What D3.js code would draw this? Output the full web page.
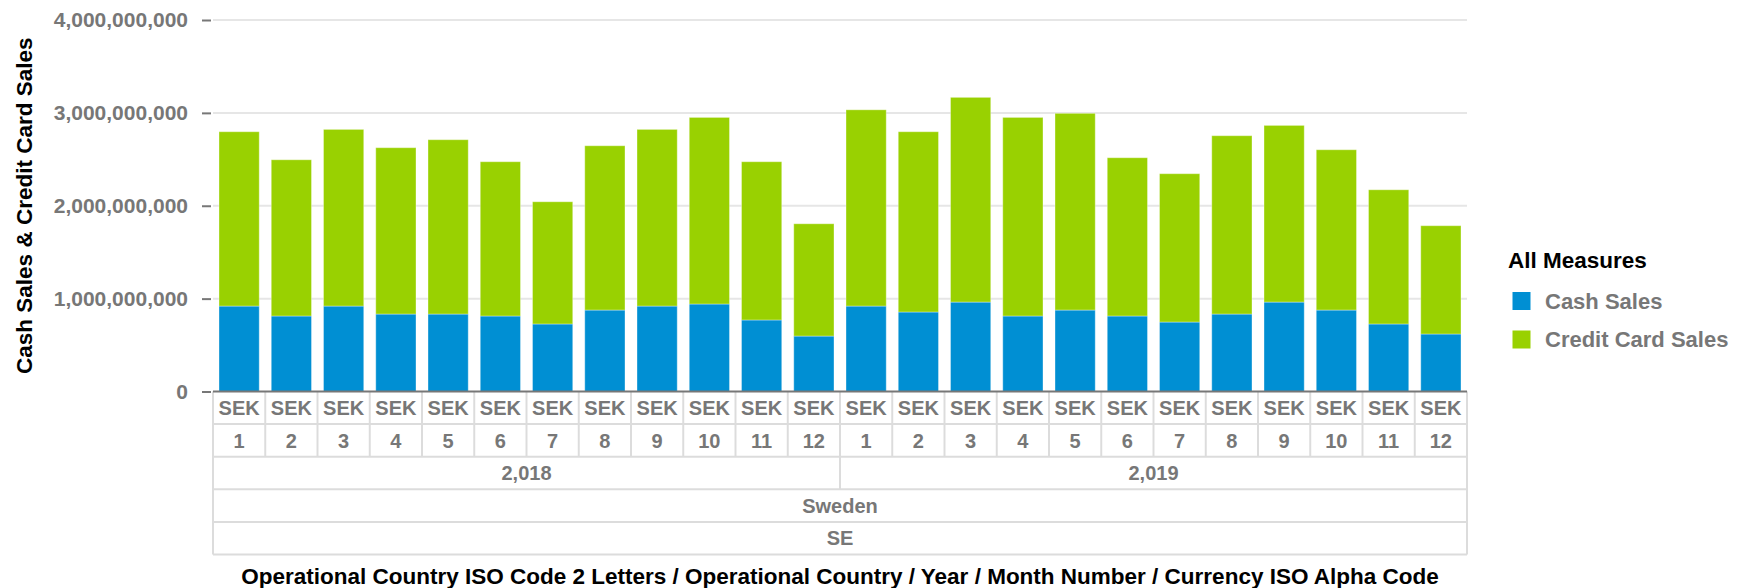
<!DOCTYPE html>
<html>
<head>
  <meta charset="utf-8">
  <title>Cash Sales & Credit Card Sales</title>
  <script src="https://cdn.jsdelivr.net/npm/d3@7/dist/d3.min.js"></script>
  <style>
    body { margin: 0; background: #fff; }
    svg text { font-family: "Liberation Sans", Arial, sans-serif; font-weight: bold; }
  </style>
</head>
<body>
  <svg id="chart" width="1745" height="588"></svg>
  <script>
    // data
    const months = [1, 2, 3, 4, 5, 6, 7, 8, 9, 10, 11, 12, 1, 2, 3, 4, 5, 6, 7, 8, 9, 10, 11, 12];
    const years = ['2,018', '2,019'];
    const currency = 'SEK';
    const country = 'Sweden';
    const isoCode = 'SE';
    const cashSales = [920, 813, 920, 834, 834, 813, 727, 877, 920, 942, 770, 597,
                       920, 856, 963, 813, 877, 813, 748, 834, 963, 877, 727, 619].map(v => v * 1e6);
    const totalSales = [2797, 2495, 2822, 2625, 2711, 2474, 2043, 2646, 2822, 2951, 2474, 1806,
                        3033, 2797, 3167, 2951, 2995, 2517, 2345, 2754, 2865, 2603, 2172, 1785].map(v => v * 1e6);
    const creditSales = totalSales.map((t, i) => t - cashSales[i]);
    const yTicks = [0, 1e9, 2e9, 3e9, 4e9];
    const measures = ['Cash Sales', 'Credit Card Sales'];
    const colors = ['#008fd3', '#99d101'];

    const svg = d3.select('#chart');
    const plotLeft = 213, plotRight = 1467, plotTop = 20, plotBase = 391.5;
    const rowH = 32.6;

    const keys = months.map((m, i) => i);
    const x = d3.scaleBand().domain(keys).range([plotLeft, plotRight]);
    const y = d3.scaleLinear().domain([0, 4e9]).range([plotBase, plotTop]);

    // gridlines
    svg.append('g').selectAll('line').data(yTicks.slice(1)).join('line')
      .attr('x1', plotLeft).attr('x2', plotRight)
      .attr('y1', d => y(d)).attr('y2', d => y(d))
      .attr('stroke', '#e6e6e6').attr('stroke-width', 2);

    // y axis
    const yAxis = svg.append('g')
      .attr('transform', `translate(${plotLeft - 2},0)`)
      .call(d3.axisLeft(y).tickValues(yTicks).tickSize(9).tickPadding(14).tickFormat(d3.format(',')));
    yAxis.select('.domain').remove();
    yAxis.selectAll('.tick line').attr('stroke', '#777').attr('stroke-width', 2);
    yAxis.selectAll('.tick text').attr('fill', '#777').style('font-size', '21px');

    // stacked bars
    const rows = keys.map(i => ({ i, cash: cashSales[i], credit: creditSales[i] }));
    const stack = d3.stack().keys(['cash', 'credit'])(rows);
    const bw = x.bandwidth() * 0.77;
    const off = (x.bandwidth() - bw) / 2;
    svg.append('g').selectAll('g').data(stack).join('g')
      .attr('fill', (d, k) => colors[k])
      .selectAll('rect').data(d => d).join('rect')
      .attr('x', d => x(d.data.i) + off)
      .attr('width', bw)
      .attr('y', d => y(d[1]))
      .attr('height', d => y(d[0]) - y(d[1]))
      .attr('stroke', 'rgba(255,255,255,0.35)').attr('stroke-width', 1);

    // category table below the plot
    const table = svg.append('g');
    const lineCol = '#dcdcdc';
    const rowTop = k => plotBase + k * rowH;
    // horizontal row lines
    table.selectAll('line.h').data(d3.range(1, 6)).join('line')
      .attr('x1', plotLeft).attr('x2', plotRight)
      .attr('y1', k => rowTop(k)).attr('y2', k => rowTop(k))
      .attr('stroke', lineCol).attr('stroke-width', 2);
    // outer verticals
    table.selectAll('line.o').data([plotLeft, plotRight]).join('line')
      .attr('x1', d => d).attr('x2', d => d)
      .attr('y1', plotBase).attr('y2', rowTop(5))
      .attr('stroke', lineCol).attr('stroke-width', 2);
    // per-month verticals
    table.selectAll('line.m').data(keys.slice(1)).join('line')
      .attr('x1', d => x(d)).attr('x2', d => x(d))
      .attr('y1', plotBase).attr('y2', d => d === 12 ? rowTop(3) : rowTop(2))
      .attr('stroke', lineCol).attr('stroke-width', 2);

    const cellText = (sel, k) => sel
      .attr('y', rowTop(k) + rowH / 2)
      .attr('dy', '0.36em')
      .attr('text-anchor', 'middle')
      .attr('fill', '#777')
      .style('font-size', '20px');

    table.selectAll('text.cur').data(keys).join('text')
      .attr('x', d => x(d) + x.bandwidth() / 2).text(currency).call(cellText, 0);
    table.selectAll('text.mon').data(keys).join('text')
      .attr('x', d => x(d) + x.bandwidth() / 2).text(d => months[d]).call(cellText, 1);
    table.selectAll('text.yr').data(years).join('text')
      .attr('x', (d, j) => (x(j * 12) + x(j * 12 + 11) + x.bandwidth()) / 2).text(d => d).call(cellText, 2);
    table.append('text').attr('x', (plotLeft + plotRight) / 2).text(country).call(cellText, 3);
    table.append('text').attr('x', (plotLeft + plotRight) / 2).text(isoCode).call(cellText, 4);

    // zero baseline
    svg.append('line')
      .attr('x1', plotLeft).attr('x2', plotRight)
      .attr('y1', y(0)).attr('y2', y(0))
      .attr('stroke', '#777').attr('stroke-width', 2);

    // axis titles
    svg.append('text')
      .attr('transform', `translate(32,${(plotTop + plotBase) / 2}) rotate(-90)`)
      .attr('text-anchor', 'middle')
      .attr('fill', '#000')
      .style('font-size', '22.5px')
      .text('Cash Sales & Credit Card Sales');

    svg.append('text')
      .attr('x', (plotLeft + plotRight) / 2).attr('y', 584)
      .attr('text-anchor', 'middle')
      .attr('fill', '#000')
      .style('font-size', '22.5px')
      .text('Operational Country ISO Code 2 Letters / Operational Country / Year / Month Number / Currency ISO Alpha Code');

    // legend
    const legend = svg.append('g').attr('transform', 'translate(1508,0)');
    legend.append('text').attr('x', 0).attr('y', 268)
      .attr('fill', '#000').style('font-size', '22.5px').text('All Measures');
    const item = legend.selectAll('g.item').data(measures).join('g')
      .attr('transform', (d, k) => `translate(0,${292 + k * 38.5})`);
    item.append('rect').attr('x', 4.5).attr('y', 0).attr('width', 18).attr('height', 18)
      .attr('fill', (d, k) => colors[k]);
    item.append('text').attr('x', 37).attr('y', 16.5)
      .attr('fill', '#777').style('font-size', '22px').text(d => d);
  </script>
</body>
</html>
